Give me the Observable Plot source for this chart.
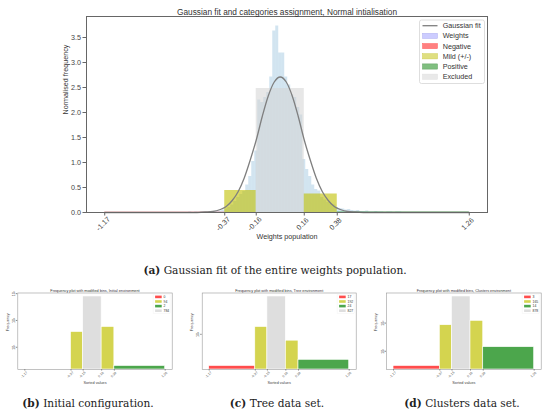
<!DOCTYPE html>
<html>
<head>
<meta charset="utf-8">
<script src="https://cdn.jsdelivr.net/npm/d3@7"></script>
<script src="https://cdn.jsdelivr.net/npm/@observablehq/plot@0.6"></script>
<style>
  body { margin:0; width:550px; height:415px; position:relative; background:#fff; overflow:hidden; }
  .cap { position:absolute; font-family:"DejaVu Serif", serif; font-size:10.6px; color:#222; text-align:center; white-space:nowrap; line-height:14px; }
  .cap b { font-weight:bold; }
</style>
</head>
<body>
<div id="top" style="position:absolute;left:0;top:0"></div>
<div class="cap" style="left:75px;width:400px;top:263px"><b>(a)</b> Gaussian fit of the entire weights population.</div>
<div id="b" style="position:absolute;left:0;top:280px"></div>
<div id="c" style="position:absolute;left:185px;top:280px"></div>
<div id="d" style="position:absolute;left:368px;top:280px"></div>
<div class="cap" style="left:-12px;width:200px;top:396px"><b>(b)</b> Initial configuration.</div>
<div class="cap" style="left:177px;width:200px;top:396px"><b>(c)</b> Tree data set.</div>
<div class="cap" style="left:362px;width:200px;top:396px"><b>(d)</b> Clusters data set.</div>
<script>
// ---------- data ----------
const xTicks = [-1.17, -0.37, -0.16, 0.16, 0.38, 1.26];
const xTickLabels = ["-1.17", "-0.37", "-0.16", "0.16", "0.38", "1.26"];
const yTicksTop = [0, 0.5, 1, 1.5, 2, 2.5, 3, 3.5];

const catEdges = [-1.17, -0.37, -0.16, 0.16, 0.38, 1.26];
const catNames = ["Negative", "Mild (+/-)", "Excluded", "Mild (+/-)", "Positive"];
const topCatHeights = [0.005, 0.44, 2.48, 0.37, 0.01];

// weights histogram (normalised), bins of width 0.02 starting at -0.61
const histStart = -0.61;
const histWidth = 0.02;
const histHeights = [
  0.01, 0.0, 0.01, 0.0, 0.01, 0.01, 0.01, 0.02, 0.02, 0.03,
  0.03, 0.05, 0.07, 0.10, 0.15, 0.22, 0.30, 0.36, 0.42, 0.55,
  0.72, 1.02, 1.23, 2.25, 2.20, 2.30, 2.40, 2.71, 3.63, 3.73,
  3.19, 3.19, 2.71, 2.55, 2.35, 2.30, 2.10, 1.95, 1.06, 0.86,
  0.72, 0.55, 0.46, 0.43, 0.30, 0.25, 0.20, 0.17, 0.15, 0.10,
  0.08, 0.07, 0.05, 0.06, 0.04, 0.03, 0.04, 0.02, 0.02, 0.03,
  0.01, 0.01, 0.02, 0.01, 0.01, 0.0, 0.01, 0.01, 0.0, 0.01, 0.01
];

// Gaussian fit curve
const curveX = [-1.17, -0.60, -0.50, -0.45, -0.40, -0.36, -0.32, -0.28, -0.24, -0.20, -0.16, -0.12, -0.08, -0.04, 0.00,
                0.04, 0.08, 0.12, 0.16, 0.20, 0.24, 0.28, 0.32, 0.36, 0.40, 0.45, 0.50, 0.60, 1.26];
const curveY = [0.00, 0.00, 0.01, 0.02, 0.06, 0.12, 0.24, 0.42, 0.69, 1.05, 1.45, 1.92, 2.33, 2.61, 2.71,
                2.61, 2.33, 1.92, 1.45, 1.05, 0.69, 0.42, 0.24, 0.12, 0.06, 0.02, 0.01, 0.00, 0.00];

// bottom subplots: counts per category (Negative, Mild-, Excluded, Mild+, Positive)
const initCounts = [0, 37, 784, 57, 2];
const treeCounts = [17, 150, 827, 70, 24];
const clusterCounts = [3, 84, 878, 120, 14];
const initLegend = ["0", "94", "2", "784"];
const treeLegend = ["17", "192", "24", "827"];
const clusterLegend = ["3", "165", "14", "878"];
const subTitles = [
  "Frequency plot with modified bins, Initial environment",
  "Frequency plot with modified bins, Tree environment",
  "Frequency plot with modified bins, Clusters environment"
];
const initYTicks = [10, 100, 1000];
const treeYTicks = [100];
const clusterYTicks = [10, 100];

// ---------- styles ----------
const topFill = {"Negative": "#ff0000", "Mild (+/-)": "#bfbf00", "Excluded": "#d3d3d3", "Positive": "#008000"};
const topOpacity = {"Negative": 0.6, "Mild (+/-)": 0.6, "Excluded": 0.55, "Positive": 0.6};
const subFill = {"Negative": "#ff4d4d", "Mild (+/-)": "#d4d44f", "Excluded": "#dedede", "Positive": "#4ca64c"};
const FONT = "Liberation Sans, Arial, sans-serif";
const XDOM = [-1.2915, 1.3815];

// ---------- top chart ----------
const hist = histHeights.map((h, i) => ({x1: histStart + i * histWidth, x2: histStart + (i + 1) * histWidth, h}));
const cats = catNames.map((c, i) => ({x1: catEdges[i], x2: catEdges[i + 1], h: topCatHeights[i], cat: c}));
const curve = curveX.map((x, i) => ({x, y: curveY[i]}));

const topPlot = Plot.plot({
  width: 550, height: 250,
  marginLeft: 86, marginRight: 63, marginTop: 16, marginBottom: 38,
  x: {domain: XDOM},
  y: {domain: [0, 3.92]},
  style: {fontFamily: FONT, fontSize: "7.2px", color: "#444", background: "transparent"},
  marks: [
    Plot.rect(hist, {x1: "x1", x2: "x2", y1: () => 0, y2: "h", fill: "#1f77b4", fillOpacity: 0.2}),
    Plot.rect(cats, {x1: "x1", x2: "x2", y1: () => 0, y2: "h", fill: d => topFill[d.cat], fillOpacity: d => topOpacity[d.cat]}),
    Plot.line(curve, {x: "x", y: "y", stroke: "#7f7f7f", strokeWidth: 1.3, curve: "monotone-x"}),
    Plot.frame({stroke: "#666", strokeWidth: 1}),
    Plot.axisY({ticks: yTicksTop, tickSize: 3.5, tickPadding: 2, tickFormat: d => d.toFixed(1), label: null, stroke: "#666"}),
    Plot.axisX({ticks: xTicks, tickSize: 3.5, tickFormat: () => "", label: null, stroke: "#666"}),
    Plot.text(xTicks, {x: d => d, text: (d, i) => xTickLabels[i], frameAnchor: "bottom", dy: 13, rotate: -45, textAnchor: "middle", fontSize: 7.2, fill: "#444"}),
    Plot.text(["Weights population"], {frameAnchor: "bottom", dy: 26, fontSize: 7.2, fill: "#333"}),
    Plot.text(["Normalised frequency"], {frameAnchor: "left", dx: -21, rotate: -90, fontSize: 7.2, fill: "#333"}),
    Plot.text(["Gaussian fit and categories assignment, Normal intialisation"], {frameAnchor: "top", dy: -7, fontSize: 8.3, fill: "#333"})
  ]
});
document.getElementById("top").appendChild(topPlot);

// top legend
{
  const svg = d3.select(topPlot);
  const g = svg.append("g").attr("font-family", FONT).attr("font-size", 7.2).attr("fill", "#333").attr("text-anchor", "start");
  g.append("rect").attr("x", 419.5).attr("y", 20).attr("width", 65).attr("height", 63.5)
    .attr("rx", 2).attr("fill", "white").attr("fill-opacity", 0.85).attr("stroke", "#d6d6d6").attr("stroke-width", 0.8);
  const entries = [
    {label: "Gaussian fit", type: "line"},
    {label: "Weights", fill: "#ccccff", stroke: "#b0b0f0"},
    {label: "Negative", fill: "#ff8080", stroke: "#ff6060"},
    {label: "Mild (+/-)", fill: "#dfdf80", stroke: "#cccc50"},
    {label: "Positive", fill: "#80bf80", stroke: "#60a060"},
    {label: "Excluded", fill: "#e9e9e9", stroke: "#e0e0e0"}
  ];
  entries.forEach((e, i) => {
    const cy = 25.7 + i * 10.2;
    if (e.type === "line") {
      g.append("line").attr("x1", 422.5).attr("x2", 437.5).attr("y1", cy).attr("y2", cy)
        .attr("stroke", "#7f7f7f").attr("stroke-width", 1.3);
    } else {
      g.append("rect").attr("x", 422.5).attr("y", cy - 2.6).attr("width", 15).attr("height", 5.2)
        .attr("fill", e.fill).attr("stroke", e.stroke).attr("stroke-width", 0.5);
    }
    g.append("text").attr("x", 442.7).attr("y", cy).attr("dy", "0.35em").text(e.label);
  });
}

// ---------- bottom subplots ----------
const sup = {1: "\u00b9", 2: "\u00b2", 3: "\u00b3"};
function subplot(counts, legendLabels, title, yTicks, width, mL, mR) {
  const bars = catNames.map((c, i) => ({x1: catEdges[i], x2: catEdges[i + 1], n: counts[i], cat: c})).filter(d => d.n > 0);
  const ns = bars.map(d => d.n);
  const lmin = Math.log10(d3.min(ns)), lmax = Math.log10(d3.max(ns));
  const pad = (lmax - lmin) * 0.05;
  const lo = Math.pow(10, lmin - pad), hi = Math.pow(10, lmax + pad);
  const p = Plot.plot({
    width, height: 108,
    marginLeft: mL, marginRight: mR, marginTop: 12.5, marginBottom: 19,
    x: {domain: XDOM},
    y: {type: "log", domain: [lo, hi]},
    style: {fontFamily: FONT, fontSize: "3.6px", color: "#444", background: "transparent"},
    marks: [
      Plot.rect(bars, {x1: "x1", x2: "x2", y1: () => lo, y2: "n", fill: d => subFill[d.cat], stroke: "white", strokeWidth: 0.6}),
      Plot.frame({stroke: "#999", strokeWidth: 0.6}),
      Plot.axisY({ticks: yTicks, tickSize: 1.5, tickPadding: 1.5, tickRotate: -90, tickFormat: d => "10" + sup[Math.round(Math.log10(d))], label: null, stroke: "#888", fontSize: 3.6}),
      Plot.axisX({ticks: xTicks, tickSize: 1.5, tickFormat: () => "", label: null, stroke: "#888"}),
      Plot.text(xTicks, {x: d => d, text: (d, i) => xTickLabels[i], frameAnchor: "bottom", dy: 6, rotate: -45, textAnchor: "middle", fontSize: 3.4, fill: "#555"}),
      Plot.text(["Sorted values"], {frameAnchor: "bottom", dy: 14, fontSize: 3.8, fill: "#444"}),
      Plot.text(["Frequency"], {frameAnchor: "left", dx: -10.5, rotate: -90, fontSize: 3.8, fill: "#444"}),
      Plot.text([title], {frameAnchor: "top", dy: -3.3, fontSize: 3.8, fill: "#333"})
    ]
  });
  // legend
  const svg = d3.select(p);
  const right = width - mR;
  const top = 12.5;
  const g = svg.append("g").attr("font-family", FONT).attr("font-size", 3.4).attr("fill", "#333").attr("text-anchor", "start");
  g.append("rect").attr("x", right - 18.5).attr("y", top + 1.6).attr("width", 17).attr("height", 19.5)
    .attr("fill", "white").attr("stroke", "#eeeeee").attr("stroke-width", 0.4).attr("rx", 0.8);
  const legCats = ["Negative", "Mild (+/-)", "Positive", "Excluded"];
  legCats.forEach((c, i) => {
    const cy = top + 4.4 + i * 4.6;
    g.append("rect").attr("x", right - 16.6).attr("y", cy - 1.3).attr("width", 6.6).attr("height", 2.6).attr("fill", subFill[c]);
    g.append("text").attr("x", right - 8.2).attr("y", cy).attr("dy", "0.35em").text(legendLabels[i]);
  });
  return p;
}

document.getElementById("b").appendChild(subplot(initCounts, initLegend, subTitles[0], initYTicks, 183, 17.3, 11.3));
document.getElementById("c").appendChild(subplot(treeCounts, treeLegend, subTitles[1], treeYTicks, 183, 16.7, 12.3));
document.getElementById("d").appendChild(subplot(clusterCounts, clusterLegend, subTitles[2], clusterYTicks, 182, 18, 9.3));
</script>
</body>
</html>
